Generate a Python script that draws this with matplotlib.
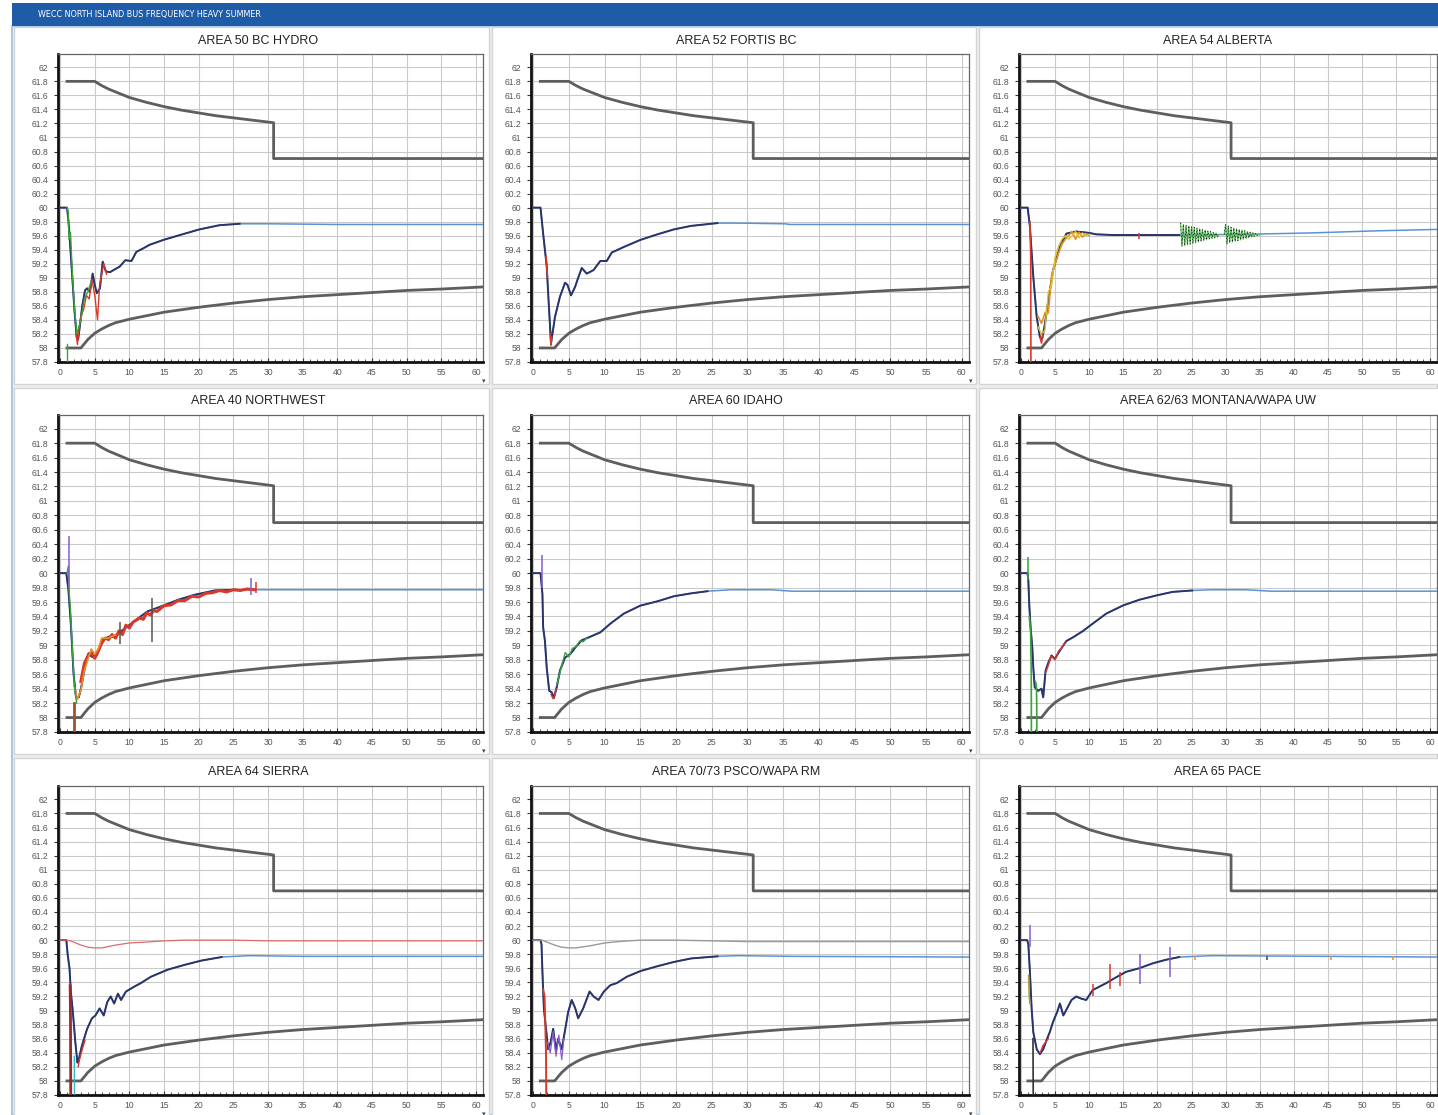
import matplotlib
matplotlib.use("Agg")
import matplotlib.pyplot as plt
from matplotlib.patches import Rectangle
from matplotlib.ticker import MultipleLocator, FuncFormatter

W, H = 1438, 1115

# ---- envelope curves (same in every panel) ----
env_lo_t = [1.0, 3.0, 3.5, 4.0, 5.0, 6.0, 7.0, 8.0, 10.0, 12.5, 15.0, 20.0, 25.0, 30.0, 35.0, 40.0, 45.0, 50.0, 55.0, 61.0]
env_lo_f = [58.0, 58.0, 58.06, 58.12, 58.21, 58.27, 58.32, 58.36, 58.41, 58.46, 58.51, 58.58, 58.64, 58.69, 58.73, 58.76, 58.79, 58.82, 58.84, 58.87]
env_hi_t = [1.0, 5.0, 6.0, 7.0, 8.0, 10.0, 12.5, 15.0, 17.5, 20.0, 22.5, 25.0, 27.5, 30.0, 30.8, 30.8, 61.0]
env_hi_f = [61.8, 61.8, 61.74, 61.69, 61.65, 61.57, 61.5, 61.44, 61.39, 61.35, 61.31, 61.28, 61.25, 61.22, 61.21, 60.7, 60.7]

titles = ["AREA 50 BC HYDRO", "AREA 52 FORTIS BC", "AREA 54 ALBERTA",
          "AREA 40 NORTHWEST", "AREA 60 IDAHO", "AREA 62/63 MONTANA/WAPA UW",
          "AREA 64 SIERRA", "AREA 70/73 PSCO/WAPA RM", "AREA 65 PACE"]

# ---- main bus frequency traces ----
t_bc = [0, 1.0, 1.2, 1.5, 1.8, 2.1, 2.4, 2.6, 2.9, 3.2, 3.6, 3.9, 4.3, 4.7, 5.0, 5.3, 5.75, 6.15, 6.6, 7.2, 7.7, 8.6, 9.4, 10.3, 11.0, 12.0, 12.9, 14.9, 17.3, 20.1, 23.0, 25.9, 30, 40, 50, 61]
f_bc = [60, 60, 59.82, 59.4, 58.95, 58.5, 58.15, 58.12, 58.35, 58.6, 58.82, 58.85, 58.8, 59.06, 58.9, 58.78, 58.85, 59.23, 59.09, 59.08, 59.11, 59.16, 59.25, 59.24, 59.37, 59.42, 59.47, 59.54, 59.61, 59.69, 59.75, 59.77, 59.77, 59.76, 59.76, 59.76]

t_fbc = [0, 1.03, 1.4, 1.9, 2.2, 2.5, 2.7, 3.05, 3.75, 4.46, 4.8, 5.3, 5.87, 6.2, 6.8, 7.5, 8.45, 9.4, 10.3, 11.0, 12.7, 15.0, 17.4, 19.7, 22.1, 25.8, 28.6, 35.2, 36.0, 61]
f_fbc = [60, 60, 59.63, 59.16, 58.6, 58.07, 58.2, 58.44, 58.73, 58.93, 58.9, 58.75, 58.87, 58.97, 59.14, 59.06, 59.11, 59.24, 59.24, 59.36, 59.44, 59.54, 59.62, 59.69, 59.74, 59.78, 59.78, 59.77, 59.76, 59.76]

t_ab = [0, 0.97, 1.3, 1.8, 2.3, 2.77, 3.1, 3.5, 4.0, 4.7, 5.7, 6.65, 8.1, 10.0, 11.0, 13.4, 23.2, 32.9, 42.6, 52.3, 61]
f_ab = [60, 60, 59.73, 59.01, 58.44, 58.15, 58.13, 58.34, 58.68, 59.11, 59.44, 59.63, 59.66, 59.64, 59.62, 59.61, 59.61, 59.62, 59.64, 59.67, 59.69]

t_nw = [0, 0.9, 1.2, 1.55, 1.95, 2.3, 2.7, 3.05, 3.6, 4.1, 4.6, 5.3, 6.1, 7.0, 8.0, 8.7, 9.7, 11.2, 12.6, 14.6, 17.0, 19.4, 22.3, 25.2, 30, 40, 50, 61]
f_nw = [60, 60, 59.77, 59.3, 58.6, 58.28, 58.28, 58.42, 58.7, 58.89, 58.84, 58.86, 59.07, 59.12, 59.12, 59.19, 59.26, 59.37, 59.47, 59.54, 59.63, 59.70, 59.76, 59.77, 59.77, 59.77, 59.77, 59.77]

t_id = [0, 1.03, 1.3, 1.4, 1.65, 1.9, 2.25, 2.6, 2.9, 3.3, 3.75, 4.46, 5.2, 5.9, 6.8, 8.0, 9.4, 10.8, 12.7, 15.0, 17.4, 19.7, 22.1, 24.4, 27.7, 33.3, 36.2, 61]
f_id = [60, 60, 59.71, 59.25, 59.06, 58.69, 58.37, 58.35, 58.27, 58.42, 58.65, 58.83, 58.88, 58.97, 59.07, 59.12, 59.18, 59.30, 59.44, 59.55, 59.61, 59.68, 59.72, 59.75, 59.77, 59.77, 59.75, 59.75]

t_mt = [0, 0.95, 1.07, 1.2, 1.4, 1.65, 1.8, 2.0, 2.5, 3.0, 3.25, 3.6, 4.0, 4.47, 4.95, 5.7, 6.65, 7.6, 9.1, 10.5, 12.5, 14.9, 17.3, 19.8, 22.2, 25.1, 28, 32.9, 36.7, 61]
f_mt = [60, 60, 59.9, 59.57, 59.25, 58.97, 58.69, 58.42, 58.37, 58.4, 58.28, 58.65, 58.76, 58.86, 58.81, 58.93, 59.06, 59.11, 59.20, 59.30, 59.44, 59.55, 59.63, 59.69, 59.74, 59.76, 59.77, 59.77, 59.75, 59.75]

t_si = [0, 0.9, 1.1, 1.36, 1.55, 1.84, 2.2, 2.5, 2.7, 3.15, 3.9, 4.6, 5.1, 5.7, 6.3, 6.8, 7.3, 7.8, 8.35, 8.8, 9.5, 10.2, 10.7, 11.65, 13.1, 15.5, 18.0, 20.4, 23.3, 27.2, 35, 61]
f_si = [60, 60, 59.79, 59.6, 59.27, 58.98, 58.55, 58.26, 58.31, 58.50, 58.74, 58.89, 58.93, 59.03, 58.93, 59.12, 59.2, 59.1, 59.24, 59.15, 59.27, 59.31, 59.34, 59.39, 59.48, 59.58, 59.65, 59.71, 59.76, 59.78, 59.77, 59.77]

t_ps = [0, 1.03, 1.17, 1.3, 1.5, 1.8, 2.1, 2.45, 2.8, 3.2, 3.5, 4.0, 4.5, 4.9, 5.4, 5.9, 6.3, 7.0, 7.9, 8.45, 9.15, 9.9, 10.8, 11.7, 13.1, 15.0, 17.4, 19.7, 22.1, 25.8, 28.6, 36.2, 61]
f_ps = [60, 60, 59.94, 59.55, 59.03, 58.74, 58.45, 58.55, 58.74, 58.43, 58.6, 58.45, 58.74, 58.98, 59.15, 59.03, 58.89, 59.03, 59.27, 59.2, 59.15, 59.27, 59.36, 59.39, 59.48, 59.56, 59.63, 59.69, 59.74, 59.77, 59.78, 59.77, 59.76]

t_pc = [0, 0.9, 1.07, 1.3, 1.55, 1.8, 2.3, 2.77, 3.25, 3.7, 4.2, 4.7, 5.3, 5.7, 6.2, 6.75, 7.4, 8.1, 8.8, 9.55, 10.5, 11.5, 12.5, 13.9, 15.4, 17.3, 19.3, 21.2, 23.2, 28, 61]
f_pc = [60, 60, 59.94, 59.55, 59.03, 58.69, 58.45, 58.38, 58.45, 58.57, 58.69, 58.84, 58.98, 59.1, 58.93, 59.03, 59.15, 59.2, 59.17, 59.15, 59.29, 59.34, 59.39, 59.47, 59.55, 59.6, 59.67, 59.72, 59.76, 59.78, 59.76]

# ---- other buses (spread around the nadir, tripped buses) ----
bc_red_t = [2.3, 2.5, 2.7, 3.0, 3.4, 3.8, 4.2, 4.6, 5.0, 5.4, 5.7, 6.0, 6.3, 6.7]
bc_red_f = [58.2, 58.05, 58.25, 58.45, 58.55, 58.75, 58.7, 58.98, 58.75, 58.4, 58.9, 59.05, 59.2, 59.05]
bc_grn_t = [1.0, 1.15, 1.3, 1.5, 1.8, 2.1, 2.4, 3.0, 3.5, 4.0, 4.5]
bc_grn_f = [60.0, 59.95, 59.55, 59.65, 59.0, 58.55, 58.2, 58.4, 58.7, 58.8, 58.95]
bc_trip_t = [1.0, 1.0]
bc_trip_f = [58.05, 57.5]

fbc_red1_t = [1.8, 1.9, 2.0]
fbc_red1_f = [59.3, 59.2, 59.0]
fbc_red2_t = [2.4, 2.5, 2.6]
fbc_red2_f = [58.2, 58.04, 58.15]

ab_band_t = [2.5, 3.0, 3.5, 4.0, 4.5, 5.0, 5.5, 6.0, 6.5, 7.0, 7.5, 8.0, 8.5, 9.0, 9.5, 10.0]
ab_orn_f = [58.45, 58.35, 58.5, 58.5, 59.05, 59.2, 59.35, 59.48, 59.55, 59.6, 59.66, 59.55, 59.65, 59.58, 59.63, 59.6]
ab_yel_f = [58.3, 58.2, 58.25, 58.8, 58.9, 59.3, 59.45, 59.55, 59.6, 59.55, 59.6, 59.66, 59.57, 59.64, 59.6, 59.62]
ab_trip_t = [1.3, 1.42, 1.45]
ab_trip_f = [59.8, 59.3, 57.5]
ab_red_t = [2.8, 3.0, 3.2]
ab_red_f = [58.15, 58.07, 58.2]
ab_osc1_t = [23.4, 23.6, 23.8, 24.0, 24.2, 24.4, 24.6, 24.8, 25.0, 25.2, 25.4, 25.6, 25.8, 26.0, 26.2,
             26.4, 26.6, 26.8, 27.0, 27.2, 27.4, 27.6, 27.8, 28.0, 28.2, 28.4, 28.6, 28.8, 29.0]
ab_osc1_f = [59.78, 59.45, 59.76, 59.46, 59.75, 59.47, 59.74, 59.48, 59.73, 59.49, 59.72, 59.5, 59.71, 59.51, 59.7,
             59.52, 59.69, 59.53, 59.68, 59.54, 59.67, 59.55, 59.66, 59.56, 59.65, 59.57, 59.64, 59.58, 59.62]
ab_osc2_t = [29.8, 30.0, 30.2, 30.4, 30.6, 30.8, 31.0, 31.2, 31.4, 31.6, 31.8, 32.0, 32.2, 32.4,
             32.6, 32.8, 33.0, 33.2, 33.4, 33.6, 33.8, 34.0, 34.2, 34.4, 34.6, 34.8, 35.0]
ab_osc2_f = [59.62, 59.76, 59.48, 59.74, 59.5, 59.72, 59.51, 59.71, 59.52, 59.7, 59.53, 59.69, 59.54, 59.68,
             59.55, 59.67, 59.56, 59.66, 59.57, 59.65, 59.58, 59.64, 59.59, 59.63, 59.6, 59.62, 59.61]

nw_red_t = [3.0, 3.5, 4.0, 4.5, 5.0, 5.5, 6.0, 6.5, 7.0, 7.5, 8.0, 8.5, 9.0, 9.5, 10.0, 10.5, 11.0, 11.5, 12.0,
            12.5, 13.0, 13.5, 14.0, 15.0, 16.0, 17.0, 18.0, 19.0, 20.0, 21.0, 22.0, 23.0, 24.0, 25.0, 26.0, 27.0, 28.0]
nw_red_f = [58.5, 58.75, 58.85, 58.9, 58.82, 58.92, 59.03, 59.1, 59.08, 59.15, 59.1, 59.2, 59.15, 59.28, 59.24, 59.32,
            59.35, 59.38, 59.36, 59.45, 59.42, 59.48, 59.47, 59.55, 59.56, 59.62, 59.62, 59.68, 59.67, 59.72, 59.73,
            59.76, 59.74, 59.77, 59.76, 59.78, 59.77]
nw_orn_t = [2.0, 2.5, 3.0, 3.5, 4.0, 4.5, 5.0, 5.5, 6.0, 7.0, 8.0]
nw_orn_f = [58.45, 58.25, 58.38, 58.65, 58.8, 58.95, 58.88, 58.95, 59.1, 59.1, 59.15]
nw_grn_t = [1.0, 1.2, 1.3, 1.5, 1.8, 2.1, 2.4]
nw_grn_f = [60.0, 60.1, 59.75, 59.5, 58.9, 58.4, 58.2]
nw_trip_t = [1.95, 1.95]
nw_trip_f = [58.2, 57.5]

id_grn_t = [3.3, 3.7, 4.1, 4.5, 5.0, 5.5, 6.0, 6.5, 7.0, 7.5]
id_grn_f = [58.45, 58.6, 58.76, 58.9, 58.84, 58.96, 58.98, 59.06, 59.05, 59.1]
id_red_t = [2.5, 2.8, 3.0, 3.2]
id_red_f = [58.32, 58.26, 58.3, 58.4]

mt_grn1_t = [1.2, 1.4, 1.5, 1.52]
mt_grn1_f = [59.4, 59.2, 58.6, 57.5]
mt_grn2_t = [2.1, 2.25, 2.3, 2.32]
mt_grn2_f = [58.5, 58.45, 58.2, 57.5]
mt_red_t = [3.6, 4.0, 4.4, 5.0, 5.5, 6.0, 6.5]
mt_red_f = [58.62, 58.72, 58.85, 58.8, 58.92, 58.97, 59.05]

si_red_t = [0, 1.0, 1.5, 2, 3, 4, 5, 6, 7, 8, 10, 12, 15, 18, 20, 25, 30, 40, 61]
si_red_f = [60, 60, 59.99, 59.97, 59.93, 59.9, 59.89, 59.89, 59.91, 59.93, 59.96, 59.97, 59.99, 60.0, 60.0, 60.0, 59.99, 59.99, 59.99]
si_trip_t = [1.45, 1.5, 1.55]
si_trip_f = [59.35, 58.9, 57.5]
si_cyan_t = [2.05, 2.1]
si_cyan_f = [58.35, 57.5]
si_bit_t = [2.6, 2.8, 3.2, 3.6]
si_bit_f = [58.2, 58.3, 58.45, 58.58]

ps_grey_t = [0, 1.2, 2, 3, 4, 5, 6, 8, 10, 12, 15, 20, 25, 30, 61]
ps_grey_f = [60, 60, 59.97, 59.93, 59.9, 59.89, 59.89, 59.92, 59.96, 59.98, 60.0, 60.0, 59.99, 59.98, 59.98]
ps_trip_t = [1.4, 1.6, 1.8, 1.85]
ps_trip_f = [59.3, 59.2, 58.4, 57.5]
ps_pur_t = [2.0, 2.4, 2.8, 3.2, 3.6, 4.0, 4.3]
ps_pur_f = [58.55, 58.4, 58.7, 58.35, 58.65, 58.3, 58.6]

pc_trip_t = [1.75, 1.8]
pc_trip_f = [58.6, 57.5]
pc_olv_t = [1.1, 1.2, 1.3]
pc_olv_f = [59.5, 59.2, 59.1]
pc_red_t = [2.8, 3.2, 3.6, 4.0]
pc_red_f = [58.4, 58.5, 58.55, 58.6]

# short bursts on individual buses: time, low, high
nw_spk_t = [1.22, 8.7, 13.3, 27.5, 28.2]
nw_spk_lo = [59.8, 59.02, 59.05, 59.7, 59.72]
nw_spk_hi = [60.52, 59.33, 59.65, 59.93, 59.88]
id_spk_t = [1.25]
id_spk_lo = [59.8]
id_spk_hi = [60.25]
mt_spk_t = [1.05]
mt_spk_lo = [59.9]
mt_spk_hi = [60.22]
ab_spk_t = [17.3]
ab_spk_lo = [59.56]
ab_spk_hi = [59.64]
pc_spk_t = [1.25, 10.5, 13.0, 14.5, 17.5, 21.8, 25.5, 36.0, 45.5, 54.5]
pc_spk_lo = [59.9, 59.2, 59.3, 59.35, 59.38, 59.48, 59.72, 59.72, 59.72, 59.72]
pc_spk_hi = [60.22, 59.38, 59.66, 59.55, 59.8, 59.9, 59.78, 59.78, 59.78, 59.78]

RED, GRN, ORN, YEL = "#d8392b", "#3aa33a", "#e8902a", "#d9c430"
PUR, CYN, BRN = "#8a5ccf", "#35b5c8", "#a0522d"

panels = [
    (t_bc, f_bc, [(bc_red_t, bc_red_f, RED, 1.0), (bc_grn_t, bc_grn_f, GRN, 1.0),
                  (bc_trip_t, bc_trip_f, GRN, 1.0)], None),
    (t_fbc, f_fbc, [(fbc_red1_t, fbc_red1_f, RED, 1.2), (fbc_red2_t, fbc_red2_f, RED, 1.2)], None),
    (t_ab, f_ab, [(ab_band_t, ab_orn_f, ORN, 1.2), (ab_band_t, ab_yel_f, YEL, 1.0),
                  (ab_trip_t, ab_trip_f, RED, 1.2), (ab_red_t, ab_red_f, RED, 1.2),
                  (ab_osc1_t, ab_osc1_f, "#58b858", 0.8), (ab_osc2_t, ab_osc2_f, "#58b858", 0.8)],
     (ab_spk_t, ab_spk_lo, ab_spk_hi, [RED])),
    (t_nw, f_nw, [(nw_red_t, nw_red_f, RED, 2.2), (nw_orn_t, nw_orn_f, ORN, 1.2),
                  (nw_grn_t, nw_grn_f, GRN, 1.0), (nw_trip_t, nw_trip_f, BRN, 2.0)],
     (nw_spk_t, nw_spk_lo, nw_spk_hi, [PUR, "#555555", "#555555", PUR, RED])),
    (t_id, f_id, [(id_grn_t, id_grn_f, GRN, 1.0), (id_red_t, id_red_f, RED, 1.0)],
     (id_spk_t, id_spk_lo, id_spk_hi, [PUR])),
    (t_mt, f_mt, [(mt_grn1_t, mt_grn1_f, GRN, 1.2), (mt_grn2_t, mt_grn2_f, GRN, 1.2),
                  (mt_red_t, mt_red_f, RED, 1.0)],
     (mt_spk_t, mt_spk_lo, mt_spk_hi, [GRN])),
    (t_si, f_si, [(si_red_t, si_red_f, "#e06a6a", 0.9), (si_trip_t, si_trip_f, "#9b2a2a", 2.0),
                  (si_cyan_t, si_cyan_f, CYN, 1.0), (si_bit_t, si_bit_f, RED, 1.0)], None),
    (t_ps, f_ps, [(ps_grey_t, ps_grey_f, "#9a9a9a", 1.0), (ps_trip_t, ps_trip_f, RED, 1.4),
                  (ps_pur_t, ps_pur_f, PUR, 0.9)], None),
    (t_pc, f_pc, [(pc_trip_t, pc_trip_f, "#333333", 1.2), (pc_olv_t, pc_olv_f, "#b0a030", 1.2),
                  (pc_red_t, pc_red_f, RED, 1.0)],
     (pc_spk_t, pc_spk_lo, pc_spk_hi, [PUR, RED, RED, RED, PUR, PUR, ORN, "#444444", ORN, ORN])),
]

# layout in pixels
col_ax = [(58, 483), (531, 969), (1019, 1437)]
row_ax = [(54, 362), (415, 732), (786, 1095)]
col_pan = [(14, 489), (492, 976), (979, 1440)]
row_pan = [(27, 384), (388, 754), (758, 1117)]
title_x = [258, 736, 1218]
title_y = [41, 401, 772]


def fx(px):
    return px / W


def fy(py):
    return 1 - py / H


fig = plt.figure(figsize=(W / 100, H / 100), dpi=100)
fig.patch.set_facecolor("white")

# window frame + panel backgrounds (kept under the axes)
fig.patches.append(Rectangle((fx(12), 0), 1 - fx(12), fy(26), transform=fig.transFigure,
                             facecolor="#eeeeee", edgecolor="#a9c8e6", lw=1.5, zorder=-3))
for (pl, pr) in col_pan:
    for (pt, pb) in row_pan:
        fig.patches.append(Rectangle((fx(pl), fy(pb)), fx(pr - pl), (pb - pt) / H,
                                     transform=fig.transFigure, facecolor="white",
                                     edgecolor="#d4d4d4", lw=1, zorder=-2))

# blue header bar
fig.patches.append(Rectangle((fx(12), fy(26)), 1 - fx(12), 23 / H, transform=fig.transFigure,
                             facecolor="#1f5ca8", edgecolor="none", zorder=-1))
fig.text(fx(38), fy(14), "WECC NORTH ISLAND BUS FREQUENCY HEAVY SUMMER", color="white",
         fontsize=5.8, va="center", ha="left", family="DejaVu Sans")

yfmt = FuncFormatter(lambda v, p: f"{round(v, 1):g}")

for i, (t, f, extras, spikes) in enumerate(panels):
    r, c = divmod(i, 3)
    l, rr = col_ax[c]
    tp, bt = row_ax[r]
    ax = fig.add_axes([fx(l), fy(bt), fx(rr - l), (bt - tp) / H])
    ax.set_zorder(1)
    ax.set_xlim(-0.3, 61.0)
    ax.set_ylim(57.8, 62.19)

    ax.plot(env_hi_t, env_hi_f, color="#5e5e5e", lw=2.0, zorder=3)
    ax.plot(env_lo_t, env_lo_f, color="#5e5e5e", lw=2.0, zorder=3)

    # recovered part in light blue, the crowded early part dark
    k = sum(1 for v in t if v <= 26)
    ax.plot(t, f, color="#5b92d6", lw=1.1, zorder=4)
    ax.plot(t[:k], f[:k], color="#2b3468", lw=1.4, zorder=5)

    for (et, ef, col, lw) in extras:
        ax.plot(et, ef, color=col, lw=lw, zorder=6)
        if et is ab_osc1_t or et is ab_osc2_t:
            ax.plot(et, ef, color="black", lw=0.6, ls=(0, (1, 3)), zorder=7)
    if spikes is not None:
        st, slo, shi, scol = spikes
        ax.vlines(st, slo, shi, colors=scol, lw=1.1, zorder=7)

    ax.xaxis.set_major_locator(MultipleLocator(5))
    ax.xaxis.set_minor_locator(MultipleLocator(1))
    ax.yaxis.set_major_locator(MultipleLocator(0.2))
    ax.yaxis.set_major_formatter(yfmt)
    ax.grid(True, which="major", color="#c9c9c9", lw=0.8)
    ax.set_axisbelow(True)
    ax.tick_params(axis="both", which="major", labelsize=6.2, labelcolor="#555555",
                   length=3, width=0.8, pad=4, color="#333333")
    ax.tick_params(axis="both", which="minor", length=2, width=0.6, color="#333333")
    ax.tick_params(axis="x", which="both", direction="in")
    for lab in ax.get_xticklabels() + ax.get_yticklabels():
        lab.set_family("Liberation Sans")
    for side in ("left", "bottom"):
        ax.spines[side].set_linewidth(2.0)
        ax.spines[side].set_color("#111111")
    for side in ("top", "right"):
        ax.spines[side].set_linewidth(0.9)
        ax.spines[side].set_color("#666666")

    fig.text(fx(title_x[c]), fy(title_y[r]), titles[i], ha="center", va="center",
             fontsize=9, color="#222222", family="Liberation Sans")
    if c < 2:
        fig.text(fx(col_pan[c][1] - 5), fy(row_pan[r][1] - 3), "\u25be", ha="center",
                 va="center", fontsize=5, color="#444444")

fig.savefig("out.png", dpi=100)
